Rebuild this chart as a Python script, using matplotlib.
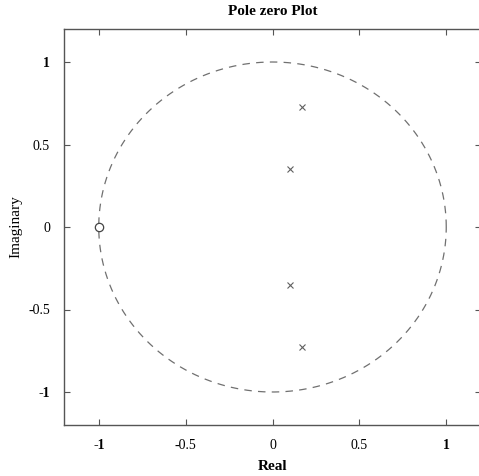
import numpy as np
import matplotlib
matplotlib.use("Agg")
import matplotlib.pyplot as plt

plt.rcParams['font.family'] = ['Liberation Serif', 'DejaVu Serif']

pole_re = [0.17, 0.10, 0.10, 0.17]
pole_im = [0.73, 0.35, -0.35, -0.73]
zero_re = [-1.0]
zero_im = [0.0]
xticks = [-1, -0.5, 0, 0.5, 1]
xtick_labels = ['-1', '-0.5', '0', '0.5', '1']
yticks = [-1, -0.5, 0, 0.5, 1]
ytick_labels = ['-1', '-0.5', '0', '0.5', '1']

fig = plt.figure(figsize=(4.79, 4.76), dpi=100)
ax = fig.add_axes([64/479, 51/476, 417/479, 396/476])

t = np.linspace(0, 2*np.pi, 400)
ax.plot(np.cos(t), np.sin(t), linestyle=(0, (6, 5)), color='#707070', linewidth=0.9)
ax.plot(pole_re, pole_im, linestyle='none', marker='x', color='#606060', markersize=4, markeredgewidth=0.8)
ax.plot(zero_re, zero_im, linestyle='none', marker='o', markerfacecolor='white', markeredgecolor='#444444', markersize=6, markeredgewidth=0.9)

ax.set_xlim(-1.2, 1.2)
ax.set_ylim(-1.2, 1.2)
ax.set_xticks(xticks)
ax.set_xticklabels(xtick_labels)
ax.set_yticks(yticks)
ax.set_yticklabels(ytick_labels)
ax.tick_params(direction='in', top=True, right=True, length=4, color='#555555', labelsize=10, pad=10)
for lbl in ax.get_xticklabels() + ax.get_yticklabels():
    if lbl.get_text() in ('1', '-1'):
        lbl.set_fontweight('bold')
for s in ax.spines.values():
    s.set_color('#555555')
    s.set_linewidth(1.0)

ax.set_title('Pole zero Plot', fontsize=11, pad=10, fontweight='bold')
ax.set_xlabel('Real', fontsize=11, labelpad=6, fontweight='bold')
ax.set_ylabel('Imaginary', fontsize=11, labelpad=4)

fig.savefig('out.png', dpi=100)
